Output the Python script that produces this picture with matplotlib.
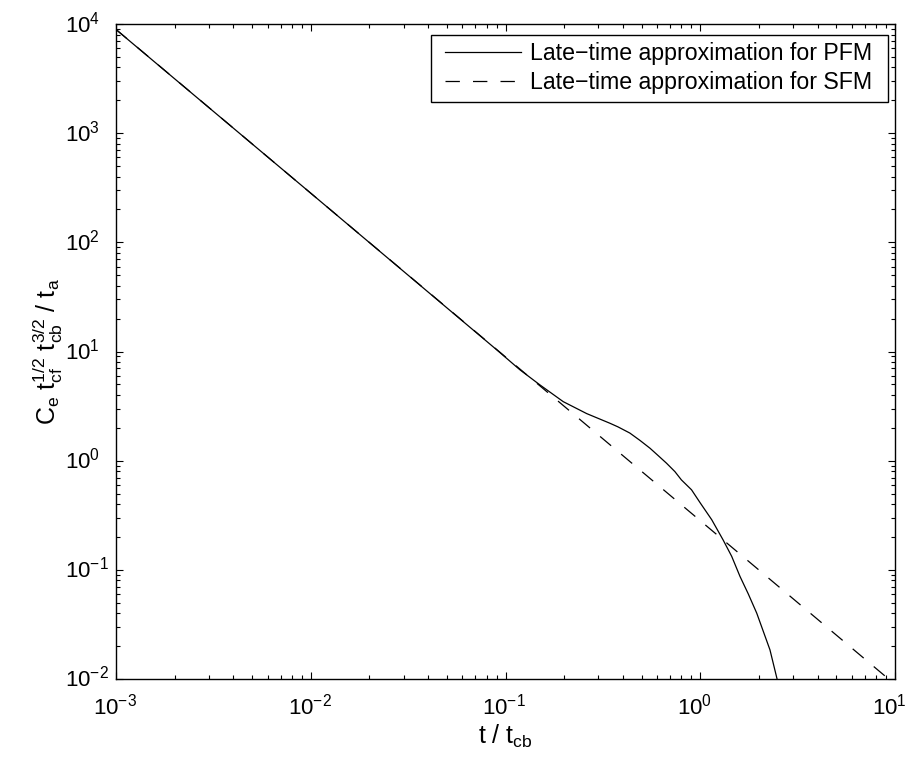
import matplotlib
matplotlib.use("Agg")
import matplotlib.pyplot as plt
from matplotlib.ticker import LogLocator, NullFormatter
from matplotlib.legend_handler import HandlerLine2D
from matplotlib.transforms import blended_transform_factory, ScaledTranslation

plt.rcParams['font.family'] = ['Liberation Sans', 'DejaVu Sans']
plt.rcParams['mathtext.fontset'] = 'custom'
plt.rcParams['mathtext.rm'] = 'Liberation Sans'
plt.rcParams['mathtext.it'] = 'Liberation Sans'
plt.rcParams['mathtext.default'] = 'regular'

# Late-time approximation for PFM (solid)
pfm_t = [1e-3, 1e-2, 0.0902, 0.1187, 0.1503, 0.198, 0.261, 0.344, 0.378, 0.435,
         0.491, 0.552, 0.609, 0.671, 0.741, 0.80, 0.902, 1.0, 1.145, 1.31,
         1.45, 1.60, 1.765, 1.95, 2.28, 2.48, 2.6]
pfm_c = [8900, 282, 10.35, 6.79, 4.94, 3.47, 2.70, 2.20, 2.04, 1.79,
         1.53, 1.30, 1.11, 0.948, 0.794, 0.667, 0.541, 0.41, 0.288, 0.188,
         0.133, 0.087, 0.0601, 0.0401, 0.0185, 0.0100, 0.0071]

# Late-time approximation for SFM (dashed)
sfm_t = [1e-3, 1e-2, 1e-1, 1.0, 10.0]
sfm_c = [8920, 282, 8.92, 0.282, 0.00892]

labels = ['Late\u2212time approximation for PFM', 'Late\u2212time approximation for SFM']

# tick label exponents (labels are 10^e)
x_exponents = [-3, -2, -1, 0, 1]
y_exponents = [-2, -1, 0, 1, 2, 3, 4]

fig = plt.figure(figsize=(9.07, 7.59), dpi=100)
ax = fig.add_axes([116/907, 1-679/759, (895-116)/907, (679-24)/759])

ax.plot(pfm_t, pfm_c, color='black', lw=0.9, label=labels[0])
ax.plot(sfm_t, sfm_c, color='black', lw=0.9, linestyle=(0, (11.5, 10.5)), label=labels[1])

ax.set_xscale('log')
ax.set_yscale('log')
ax.set_xlim(1e-3, 10)
ax.set_ylim(1e-2, 1e4)

ax.set_xticks([10.0**e for e in x_exponents])
ax.set_yticks([10.0**e for e in y_exponents])
ax.xaxis.set_minor_locator(LogLocator(base=10, subs=range(2, 10), numticks=20))
ax.yaxis.set_minor_locator(LogLocator(base=10, subs=range(2, 10), numticks=20))
ax.xaxis.set_minor_formatter(NullFormatter())
ax.yaxis.set_minor_formatter(NullFormatter())

ax.tick_params(which='both', direction='in', top=True, right=True, width=0.8,
               labelbottom=False, labelleft=False)
ax.tick_params(which='major', length=5)
ax.tick_params(which='minor', length=2.8)
for s in ax.spines.values():
    s.set_linewidth(1.0)

# MATLAB-style tick labels: the "10" is aligned, exponent hangs outside
tfs = 16
dpi = fig.dpi
xt = blended_transform_factory(ax.transData, ax.transAxes)
for e in x_exponents:
    ax.text(10.0**e, 0, r'$10^{%d}$' % e, fontsize=tfs, ha='left', va='baseline',
            transform=xt + ScaledTranslation(-23/dpi, -36/dpi, fig.dpi_scale_trans),
            clip_on=False)
yt = blended_transform_factory(ax.transAxes, ax.transData)
for e in y_exponents:
    ax.text(0, 10.0**e, r'$10^{%d}$' % e, fontsize=tfs, ha='left', va='baseline',
            transform=yt + ScaledTranslation(-51/dpi, -8/dpi, fig.dpi_scale_trans),
            clip_on=False)

ax.set_xlabel(r'$t\ /\ t_{cb}$', fontsize=18)
ax.set_ylabel(r'$C_e\ t_{cf}^{1/2}\ t_{cb}^{3/2}\ /\ t_a$', fontsize=18)
ax.xaxis.label.set_va('baseline')
ax.yaxis.label.set_va('baseline')
ax.xaxis.set_label_coords(0.5, (679 - 744) / 655)
ax.yaxis.set_label_coords((56 - 116) / 779, 0.5)

fs = 16.7
x0 = (431 - 116) / 779
x1 = (888 - 116) / 779
ytop = (679 - 35) / 655
leg = ax.legend(loc='upper left', bbox_to_anchor=(x0, ytop - 0.1, x1 - x0, 0.1), mode='expand',
                borderaxespad=0, fontsize=fs, numpoints=2,
                handler_map={matplotlib.lines.Line2D: HandlerLine2D(marker_pad=0.29)},
                handlelength=3.86, handletextpad=0.07, borderpad=0.32,
                labelspacing=0.25, fancybox=False, framealpha=1, edgecolor='black')
leg.get_frame().set_linewidth(1.0)

fig.savefig('out.png', dpi=100)
